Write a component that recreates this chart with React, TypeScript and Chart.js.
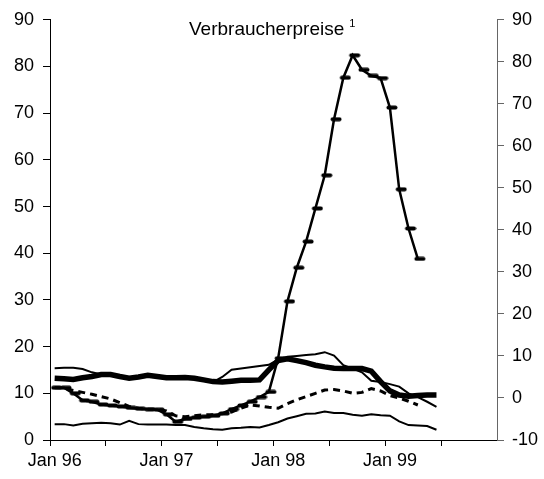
import React, { useEffect, useRef } from 'react';
import { Chart, registerables } from 'chart.js';

Chart.register(...registerables);

// Monthly categories Jan 96 .. Dez 99
const monthNames = ['Jan', 'Feb', 'Mär', 'Apr', 'Mai', 'Jun', 'Jul', 'Aug', 'Sep', 'Okt', 'Nov', 'Dez'];
const yearLabels = ['96', '97', '98', '99'];
const categories = yearLabels.flatMap((y) => monthNames.map((m) => `${m} ${y}`));
const xTickLabels = ['Jan 96', 'Jan 97', 'Jan 98', 'Jan 99'];

const titleText = 'Verbraucherpreise';
const titleNote = '1';

// left axis series (%)
const seriesSpike = [
  11.2, 11.2, 10.0, 8.5, 8.2, 7.6, 7.4, 7.2, 6.9, 6.7, 6.6, 6.5,
  5.5, 3.9, 4.5, 4.8, 5.0, 5.2, 5.7, 6.6, 7.4, 8.2, 9.2, 10.3,
  17.5, 29.7, 36.9, 42.5, 49.6, 56.7, 68.7, 77.6, 82.4, 79.3, 78.0, 77.5,
  71.2, 53.7, 45.3, 38.8,
];
const seriesDashed = [
  11.2, 11.1, 10.6, 10.2, 9.8, 9.3, 8.8, 8.0, 7.2, 6.8, 6.6, 6.6,
  6.2, 5.2, 5.0, 5.2, 5.4, 5.4, 5.6, 6.0, 6.8, 7.5, 7.3, 7.0,
  6.8, 7.8, 8.6, 9.3, 10.0, 10.7, 10.8, 10.5, 10.0, 10.2, 11.0, 10.5,
  9.5, 9.0, 8.3, 7.5,
];
const seriesLow = [
  3.4, 3.4, 3.1, 3.5, 3.6, 3.7, 3.6, 3.3, 4.1, 3.4, 3.3, 3.3,
  3.3, 3.2, 3.2, 2.8, 2.5, 2.3, 2.2, 2.5, 2.6, 2.8, 2.7, 3.2,
  3.8, 4.6, 5.1, 5.6, 5.7, 6.1, 5.8, 5.8, 5.4, 5.2, 5.5, 5.3,
  5.2, 4.0, 3.2, 3.1, 3.0, 2.2,
];
// right axis series (%)
const seriesThick = [
  4.7, 4.6, 4.4, 4.8, 5.1, 5.6, 5.6, 5.1, 4.7, 5.0, 5.4, 5.1,
  4.8, 4.8, 4.9, 4.7, 4.3, 3.9, 3.8, 4.0, 4.2, 4.2, 4.3, 6.7,
  8.9, 9.3, 8.9, 8.4, 7.8, 7.4, 7.1, 7.0, 7.0, 7.0, 6.4, 3.9,
  1.7, 0.7, 0.4, 0.6, 0.7, 0.7,
];
const seriesThin = [
  7.1, 7.2, 7.2, 6.9, 6.1, 5.6, 5.3, 5.1, 4.7, 5.0, 5.3, 5.0,
  4.7, 4.7, 4.8, 4.6, 4.2, 3.8, 5.0, 6.7, 7.0, 7.3, 7.6, 7.9,
  9.2, 9.8, 10.0, 10.2, 10.4, 10.9, 10.1, 7.8, 7.0, 6.1, 4.1, 3.8,
  3.3, 2.7, 1.1, 0.2, -0.9, -2.1,
];

const leftMin = 0;
const leftMax = 90;
const rightMin = -10;
const rightMax = 90;
const tickStep = 10;

const FONT = '"Liberation Sans", Arial, sans-serif';

function makeDashMarker(): HTMLCanvasElement {
  const c = document.createElement('canvas');
  c.width = 16;
  c.height = 5;
  const g = c.getContext('2d')!;
  g.fillStyle = '#000';
  g.beginPath();
  g.moveTo(6.5, 0.5);
  g.lineTo(13.5, 0.5);
  g.arc(13.5, 2.5, 2, -Math.PI / 2, Math.PI / 2);
  g.lineTo(6.5, 4.5);
  g.arc(6.5, 2.5, 2, Math.PI / 2, (3 * Math.PI) / 2);
  g.closePath();
  g.fill();
  return c;
}

const titlePlugin = {
  id: 'innerTitle',
  afterDraw(chart: any) {
    const ctx = chart.ctx as CanvasRenderingContext2D;
    ctx.save();
    ctx.fillStyle = '#000';
    ctx.textAlign = 'left';
    ctx.textBaseline = 'alphabetic';
    ctx.font = `19px ${FONT}`;
    const x = 189;
    const y = 35;
    ctx.fillText(titleText, x, y);
    const w = ctx.measureText(titleText).width;
    ctx.font = `11px ${FONT}`;
    ctx.fillText(titleNote, x + w + 5, 27);
    ctx.restore();
  },
};

export default function App() {
  const ref = useRef<HTMLCanvasElement | null>(null);

  useEffect(() => {
    if (!ref.current) return;
    const marker = makeDashMarker();
    const chart = new Chart(ref.current, {
      type: 'line',
      data: {
        labels: categories,
        datasets: [
          {
            label: 'Reihe E',
            data: seriesLow,
            yAxisID: 'y',
            borderColor: '#000',
            borderWidth: 2,
            pointRadius: 0,
            tension: 0,
          },
          {
            label: 'Reihe D',
            data: seriesDashed,
            yAxisID: 'y',
            borderColor: '#000',
            borderWidth: 3,
            borderDash: [7, 5],
            pointRadius: 0,
            tension: 0,
          },
          {
            label: 'Reihe C',
            data: seriesThin,
            yAxisID: 'y1',
            borderColor: '#000',
            borderWidth: 2,
            pointRadius: 0,
            tension: 0,
          },
          {
            label: 'Reihe B',
            data: seriesThick,
            yAxisID: 'y1',
            borderColor: '#000',
            borderWidth: 5.5,
            pointRadius: 0,
            tension: 0,
          },
          {
            label: 'Reihe A',
            data: seriesSpike,
            yAxisID: 'y',
            borderColor: '#000',
            borderWidth: 2.5,
            pointStyle: marker,
            pointRadius: 4,
            tension: 0,
          },
        ],
      },
      options: {
        responsive: false,
        animation: false,
        events: [],
        layout: { padding: { top: 16, left: 0, right: 0, bottom: 0 } },
        plugins: {
          legend: { display: false },
          tooltip: { enabled: false },
          title: { display: false },
        },
        scales: {
          x: {
            type: 'category',
            offset: true,
            border: { display: true, color: '#000', width: 1 },
            grid: {
              display: true,
              offset: true,
              drawOnChartArea: false,
              drawTicks: true,
              tickLength: 6,
              tickColor: (c: any) => (c.index % 6 === 0 ? '#000' : 'rgba(0,0,0,0)'),
            },
            ticks: {
              autoSkip: false,
              maxRotation: 0,
              minRotation: 0,
              padding: 4,
              color: '#000',
              font: { family: FONT, size: 18 },
              callback: (_v: any, i: number) => {
                const lbl = categories[i];
                return xTickLabels.includes(lbl) ? lbl : '';
              },
            },
            afterFit: (s: any) => {
              s.height = 39;
            },
          },
          y: {
            position: 'left',
            min: leftMin,
            max: leftMax,
            border: { display: true, color: '#000', width: 1 },
            grid: { drawOnChartArea: false, drawTicks: true, tickLength: 7, tickColor: '#000' },
            ticks: {
              stepSize: tickStep,
              padding: 9,
              color: '#000',
              font: { family: FONT, size: 18 },
            },
            afterFit: (s: any) => {
              s.width = 50;
            },
          },
          y1: {
            position: 'right',
            min: rightMin,
            max: rightMax,
            border: { display: true, color: '#666', width: 1 },
            grid: { drawOnChartArea: false, drawTicks: true, tickLength: 7, tickColor: '#666' },
            ticks: {
              stepSize: tickStep,
              padding: 8,
              color: '#000',
              font: { family: FONT, size: 18 },
            },
            afterFit: (s: any) => {
              s.width = 47;
            },
          },
        },
      },
      plugins: [titlePlugin],
    });
    return () => chart.destroy();
  }, []);

  return (
    <div style={{ position: 'absolute', left: 0, top: 0, width: 544, height: 479, background: '#fff' }}>
      <canvas ref={ref} width={544} height={479} />
    </div>
  );
}
